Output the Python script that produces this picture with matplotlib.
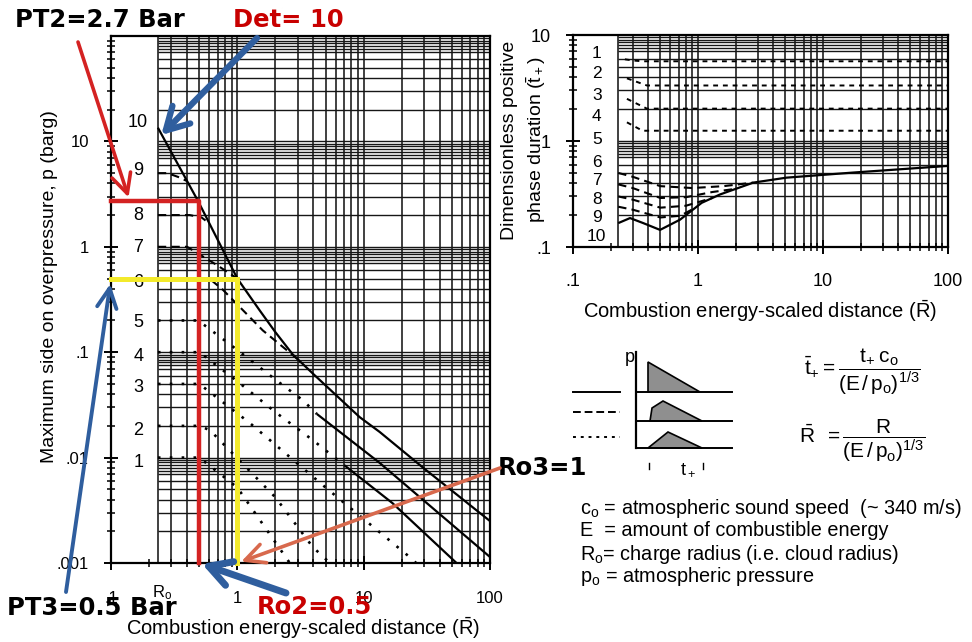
import matplotlib
matplotlib.use("Agg")
import matplotlib.pyplot as plt
from matplotlib.ticker import LogLocator, NullFormatter
from matplotlib.patches import Polygon

plt.rcParams['font.family'] = ['Liberation Sans', 'DejaVu Sans']
plt.rcParams['mathtext.fontset'] = 'custom'
plt.rcParams['mathtext.rm'] = 'Liberation Sans'
plt.rcParams['mathtext.it'] = 'Liberation Sans'
plt.rcParams['mathtext.bf'] = 'Liberation Sans:bold'

# ---------------- overpressure chart: curves 1..10 (R-bar, p in barg) ----------------
grid_edge = 0.235                      # charge radius R0, where the chart paper starts
r10 = [0.235, 0.49, 1.0, 1.5, 2.0, 2.75, 4.0, 9.3, 13.4, 30, 100]
p10 = [13.5, 2.7, 0.5, 0.25, 0.155, 0.095, 0.062, 0.0242, 0.0175, 0.0079, 0.0025]
r9 = [0.235, 0.28, 0.34, 0.40]
p9 = [5.0, 5.0, 4.6, 4.2]
r8 = [0.235, 0.42, 0.52, 0.60]
p8 = [2.0, 2.0, 1.9, 1.67]
r7 = [0.235, 0.40, 0.69, 1.0]
p7 = [1.0, 1.0, 0.67, 0.5]
r6 = [0.235, 0.60, 0.77, 1.59, 3.0]
p6 = [0.5, 0.5, 0.39, 0.161, 0.086]
r5 = [0.235, 0.49, 1.0, 2.0, 3.3, 4.25, 13.4, 100]
p5 = [0.2, 0.2, 0.105, 0.055, 0.035, 0.026, 0.0089, 0.00114]
r4 = [0.235, 0.5, 1.0, 2.0, 4.0, 7.0, 16.9, 54.3]
p4 = [0.1, 0.1, 0.053, 0.027, 0.0145, 0.0085, 0.0037, 0.001]
r3 = [0.235, 0.5, 1.26, 5.0, 23.1, 26.0]
p3 = [0.05, 0.05, 0.0212, 0.0052, 0.00114, 0.001]
r2 = [0.235, 0.5, 0.607, 2.0, 3.95, 5.4]
p2 = [0.02, 0.02, 0.0182, 0.0042, 0.00142, 0.001]
r1 = [0.235, 0.5, 1.0, 2.6]
p1 = [0.01, 0.01, 0.0052, 0.001]
shock5_from = 5                         # node index where curve 5 turns into a shock
shock4_from = 5

strength_labels = ['1', '2', '3', '4', '5', '6', '7', '8', '9', '10']
strength_label_p = [0.009, 0.018, 0.046, 0.091, 0.19, 0.46, 0.99, 2.0, 5.3, 15.0]

x_ticks = [0.1, 1, 10, 100]
x_ticklabels = ['.1', '1', '10', '100']
p_ticks = [0.001, 0.01, 0.1, 1, 10]
p_ticklabels = ['.001', '.01', '.1', '1', '10']

# worked example
det_strength = 10
ro2, pt2 = 0.5, 2.7
ro3, pt3 = 1.0, 0.5

# ---------------- positive phase duration chart ----------------
rd1 = [0.26, 0.30, 0.36, 100]
td1 = [5.9, 5.75, 5.65, 5.65]
rd2 = [0.27, 0.39, 100]
td2 = [3.9, 3.34, 3.34]
rd3 = [0.27, 0.39, 100]
td3 = [2.5, 2.02, 2.02]
rd4 = [0.27, 0.36, 100]
td4 = [1.5, 1.25, 1.25]
rd6 = [0.23, 0.3, 0.5, 0.9, 1.6, 2.77]
td6 = [0.50, 0.46, 0.375, 0.36, 0.375, 0.405]
rd7 = [0.23, 0.3, 0.5, 0.8, 1.3, 2.0]
td7 = [0.39, 0.36, 0.29, 0.295, 0.33, 0.354]
rd8 = [0.23, 0.3, 0.5, 0.8, 1.3]
td8 = [0.30, 0.28, 0.235, 0.245, 0.29]
rd9 = [0.23, 0.3, 0.5, 0.72, 0.95]
td9 = [0.24, 0.225, 0.19, 0.197, 0.234]
rd10 = [0.23, 0.286, 0.365, 0.497, 0.718, 1.07, 1.5, 2.77, 5.1, 17.5, 100]
td10 = [0.168, 0.1875, 0.168, 0.145, 0.181, 0.261, 0.313, 0.405, 0.451, 0.504, 0.582]
dur_label_t = [6.7, 4.3, 2.7, 1.7, 1.04, 0.63, 0.42, 0.28, 0.19, 0.125]
t_ticks = [0.1, 1, 10]
t_ticklabels = ['.1', '1', '10']

W, H = 972, 642
fig = plt.figure(figsize=(W / 100, H / 100), dpi=100)


def box(x0, y0, x1, y1):
    return [x0 / W, 1 - y1 / H, (x1 - x0) / W, (y1 - y0) / H]


paper_steps = [1, 2, 3, 4, 5, 6, 7, 7.5, 8, 8.5, 9, 9.5]
GRID = '#161616'
SOLID = dict(color='black', lw=1.6, solid_capstyle='butt')
DASHED = dict(color='black', lw=1.5, ls=(0, (4, 2.5)))
DOTTED = dict(color='black', lw=1.9, ls=(0, (1, 3.5)))


def draw_paper(ax, x_lo, x_hi, y_lo, y_hi, xdec, ydec):
    xs = [k * 10.0 ** e for e in xdec for k in range(1, 10)] + [x_hi]
    xs = [v for v in xs if x_lo < v <= x_hi] + [x_lo]
    ax.vlines(xs, y_lo, y_hi, colors=GRID, lw=1.15, zorder=1)
    ys = [k * 10.0 ** e for e in ydec for k in paper_steps]
    ys = [v for v in ys if y_lo < v < y_hi]
    ax.hlines(ys, x_lo, x_hi, colors=GRID, lw=1.0, zorder=1)


def style_axes(ax, fs):
    ax.set_xscale('log')
    ax.set_yscale('log')
    for s in ax.spines.values():
        s.set_linewidth(1.6)
    ax.xaxis.set_minor_locator(LogLocator(base=10, subs=range(2, 10)))
    ax.yaxis.set_minor_locator(LogLocator(base=10, subs=range(2, 10)))
    ax.xaxis.set_minor_formatter(NullFormatter())
    ax.yaxis.set_minor_formatter(NullFormatter())
    ax.tick_params(which='major', direction='inout', length=10, width=1.4, labelsize=fs)
    ax.tick_params(which='minor', direction='inout', length=6, width=1.1)


# ---------------- left: side-on overpressure ----------------
ax = fig.add_axes(box(111, 36, 490, 563))
style_axes(ax, 12)
ax.set_xlim(0.1, 100)
ax.set_ylim(0.001, 100)
ax.set_xticks(x_ticks)
ax.set_xticklabels(x_ticklabels)
ax.set_yticks(p_ticks)
ax.set_yticklabels(p_ticklabels)
ax.tick_params(axis='x', which='major', pad=15)
ax.tick_params(axis='y', which='major', pad=11)
draw_paper(ax, grid_edge, 100, 0.001, 100, range(-1, 2), range(-3, 2))

ax.plot(r10, p10, **SOLID, zorder=3)
for rr, pp in ((r9, p9), (r8, p8), (r7, p7), (r6, p6)):
    ax.plot(rr, pp, **DASHED, zorder=3)
ax.plot(r5[:shock5_from + 1], p5[:shock5_from + 1], **DOTTED, zorder=3)
ax.plot(r5[shock5_from:], p5[shock5_from:], **SOLID, zorder=3)
ax.plot(r4[:shock4_from + 1], p4[:shock4_from + 1], **DOTTED, zorder=3)
ax.plot(r4[shock4_from:], p4[shock4_from:], **SOLID, zorder=3)
for rr, pp in ((r3, p3), (r2, p2), (r1, p1)):
    ax.plot(rr, pp, **DOTTED, zorder=3)

for lab, pv in zip(strength_labels, strength_label_p):
    ax.text(0.164, pv, lab, ha='center', va='center', fontsize=13, zorder=4)

# worked example: R0 = 0.5 -> 2.7 bar, R0 = 1 -> 0.5 bar
ax.plot([0.1, ro2, ro2], [pt2, pt2, 0.001], color='#d42222', lw=3.2,
        clip_on=False, zorder=6, solid_joinstyle='round')
ax.plot([0.1, ro3, ro3], [pt3, pt3, 0.001], color='#f3ea2b', lw=3.6,
        clip_on=False, zorder=6, solid_joinstyle='miter')

# ---------------- right: positive phase duration ----------------
axd = fig.add_axes(box(573, 35, 948, 247))
style_axes(axd, 13)
axd.set_xlim(0.1, 100)
axd.set_ylim(0.1, 10)
axd.set_xticks(x_ticks)
axd.set_xticklabels(x_ticklabels)
axd.set_yticks(t_ticks)
axd.set_yticklabels(t_ticklabels)
axd.tick_params(axis='x', which='major', pad=14)
axd.tick_params(axis='y', which='major', pad=11)
draw_paper(axd, 0.229, 100, 0.1, 10, range(-1, 2), range(-1, 1))

SHORT = dict(color='black', lw=1.4, ls=(0, (2.5, 2.5)))
for rr, tt in ((rd1, td1), (rd2, td2), (rd3, td3), (rd4, td4)):
    axd.plot(rr, tt, **SHORT, zorder=3)
for rr, tt in ((rd6, td6), (rd7, td7), (rd8, td8), (rd9, td9)):
    axd.plot(rr, tt, **DASHED, zorder=3)
axd.plot(rd10, td10, **SOLID, zorder=3)
for lab, tv in zip(strength_labels, dur_label_t):
    axd.text(0.155, tv, lab, ha='center', va='center', fontsize=12.5, zorder=4)

# ---------------- overlay in pixel coordinates ----------------
ov = fig.add_axes([0, 0, 1, 1], zorder=10)
ov.set_xlim(0, W)
ov.set_ylim(H, 0)
ov.axis('off')
ov.patch.set_alpha(0)

ov.text(50, 287, 'Maximum side on overpressure, p (barg)', rotation=90,
        ha='center', va='center', fontsize=14)
ov.text(303, 628, r'Combustion energy-scaled distance ($\bar{R}$)',
        ha='center', va='center', fontsize=14.5)
ov.text(162, 593, r'R$_o$', ha='center', va='center', fontsize=12)
ov.text(509, 140, 'Dimensionless positive', rotation=90, ha='center',
        va='center', fontsize=14)
ov.text(536, 140, r'phase duration ($\bar{t}_+$)', rotation=90, ha='center',
        va='center', fontsize=14)
ov.text(760, 311, r'Combustion energy-scaled distance ($\bar{R}$)',
        ha='center', va='center', fontsize=14.5)

# wave-shape key
ov.plot([573, 620], [392, 392], color='black', lw=1.4)
ov.plot([573, 620], [412, 412], color='black', lw=1.4, ls=(0, (4, 2)))
ov.plot([573, 620], [437, 437], color='black', lw=1.4, ls=(0, (1.5, 2.5)))
ov.plot([636, 636], [352, 448], color='black', lw=1.6)
ov.text(630, 357, 'p', ha='center', va='center', fontsize=13)
for yb in (392, 421, 448):
    ov.plot([636, 732], [yb, yb], color='black', lw=1.4)
waves = [
    [(648, 392), (648, 362), (700, 392)],
    [(650, 421), (652, 408), (663, 401), (702, 421)],
    [(648, 448), (668, 432), (702, 448)],
]
for pts in waves:
    ov.add_patch(Polygon(pts, closed=True, facecolor='#8f8f8f',
                         edgecolor='black', lw=1.2))
ov.plot([649, 649], [463, 469], color='black', lw=1.0)
ov.plot([703, 703], [463, 469], color='black', lw=1.0)
ov.text(688, 469, r't$_+$', ha='center', va='center', fontsize=13)

ov.text(862, 372, r'$\bar{t}_{+}=\dfrac{t_{+}\;c_{o}}{(E\,/\,p_{o})^{1/3}}$',
        ha='center', va='center', fontsize=15)
ov.text(862, 441, r'$\bar{R}\;\;=\dfrac{R}{(E\,/\,p_{o})^{1/3}}$',
        ha='center', va='center', fontsize=15)

defs = [r'c$_o$ = atmospheric sound speed  (~ 340 m/s)',
        'E  = amount of combustible energy',
        r'R$_o$= charge radius (i.e. cloud radius)',
        r'p$_o$ = atmospheric pressure']
for i, line in enumerate(defs):
    ov.text(580, 508 + i * 23, line, ha='left', va='center', fontsize=14.3)

# annotations of the worked example
BOLD = dict(fontsize=17.5, fontweight='bold', family='DejaVu Sans')
RED_TXT = '#c80000'
BLUE = '#2f5e9e'
ov.text(15, 20, f'PT2={pt2} Bar', ha='left', va='center', color='black', **BOLD)
ov.text(233, 20, f'Det= {det_strength}', ha='left', va='center', color=RED_TXT, **BOLD)
ov.text(7, 608, f'PT3={pt3} Bar', ha='left', va='center', color='black', **BOLD)
ov.text(257, 607, f'Ro2={ro2}', ha='left', va='center', color=RED_TXT, **BOLD)
ov.text(498, 468, f'Ro3={ro3:g}', ha='left', va='center', color='black', **BOLD)

ov.annotate('', xy=(0.141, pt2), xycoords=ax.transData, xytext=(78, 42),
            textcoords=ov.transData,
            arrowprops=dict(arrowstyle='->,head_length=0.7,head_width=0.35',
                            color='#d42222', lw=2.6, shrinkA=0, shrinkB=3,
                            mutation_scale=20))
ov.annotate('', xy=(0.25, 11.5), xycoords=ax.transData, xytext=(257, 38),
            textcoords=ov.transData,
            arrowprops=dict(arrowstyle='->,head_length=0.8,head_width=0.45',
                            color=BLUE, lw=4.5, shrinkA=0, shrinkB=0,
                            mutation_scale=20))
ov.annotate('', xy=(0.1, pt3), xycoords=ax.transData, xytext=(66, 592),
            textcoords=ov.transData,
            arrowprops=dict(arrowstyle='->,head_length=0.7,head_width=0.35',
                            color=BLUE, lw=2.8, shrinkA=0, shrinkB=4,
                            mutation_scale=20))
ov.annotate('', xy=(ro2, 0.001), xycoords=ax.transData, xytext=(286, 593),
            textcoords=ov.transData,
            arrowprops=dict(arrowstyle='->,head_length=0.8,head_width=0.45',
                            color=BLUE, lw=5, shrinkA=0, shrinkB=2,
                            mutation_scale=20))
ov.annotate('', xy=(ro3, 0.001), xycoords=ax.transData, xytext=(500, 468),
            textcoords=ov.transData,
            arrowprops=dict(arrowstyle='->,head_length=0.7,head_width=0.35',
                            color='#d8694d', lw=2.6, shrinkA=0, shrinkB=3,
                            mutation_scale=20))

fig.savefig('out.png', dpi=100)
